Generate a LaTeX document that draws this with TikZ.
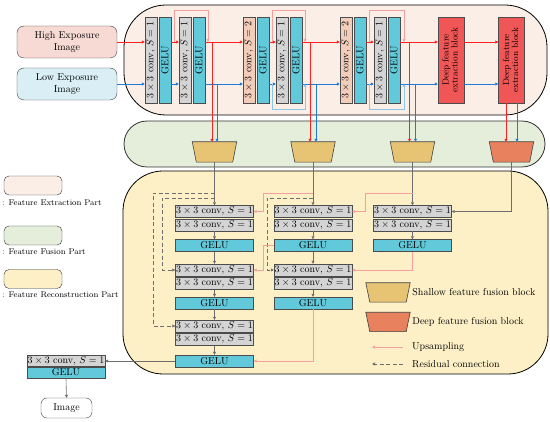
\documentclass[tikz,border=0pt]{standalone}
\usepackage{tikz}
\usetikzlibrary{arrows.meta,positioning}
\definecolor{extfill}{HTML}{FBEEE6}
\definecolor{fusfill}{HTML}{E4EEDA}
\definecolor{recfill}{HTML}{FDF0C6}
\definecolor{highfill}{HTML}{F8DAD4}
\definecolor{lowfill}{HTML}{D9EFF5}
\definecolor{convgray}{HTML}{D4D4D4}
\definecolor{convpeach}{HTML}{F2CDB9}
\definecolor{gelucyan}{HTML}{62C9DA}
\definecolor{deepred}{HTML}{F05656}
\definecolor{shallowgold}{HTML}{E6C474}
\definecolor{deeporange}{HTML}{E8825E}
\definecolor{lnred}{HTML}{FF2020}
\definecolor{lnblue}{HTML}{1E7CD6}
\definecolor{lnpink}{HTML}{F5A0A0}
\definecolor{lnlblue}{HTML}{8CC6EA}
\definecolor{lngray}{HTML}{6E6E6E}
\newcommand\convlbl{$3\times 3$ conv, $S=1$}
\newcommand\gelulbl{GELU}
\tikzset{
  blk/.style={draw=black!70,inner sep=0pt,font=\fontsize{10}{11}\selectfont},
  vconv/.style={blk,fill=convgray,minimum width=12pt,minimum height=86pt},
  vgelu/.style={blk,fill=gelucyan,minimum width=12pt,minimum height=86pt},
  s1/.style={fill=convgray},
  s2/.style={fill=convpeach},
  deepblk/.style={blk,fill=deepred,minimum width=26pt,minimum height=86pt,font=\fontsize{9}{10}\selectfont},
  hconv/.style={blk,fill=convgray,minimum width=78pt,minimum height=12pt},
  hgelu/.style={blk,fill=gelucyan,minimum width=78pt,minimum height=12pt},
  inimg/.style={draw=black!75,rounded corners=7pt,minimum width=100pt,minimum height=32pt,align=center,font=\fontsize{10}{11.5}\selectfont},
  fusebox/.style={inner sep=0pt,minimum width=44pt,minimum height=20pt},
  trap/.style={draw=black!75,line width=0.6pt},
  legbox/.style={draw=black!80,rounded corners=5pt,minimum width=58pt,minimum height=19pt},
  legtxt/.style={inner sep=1pt,font=\fontsize{8.3}{9}\selectfont},
  keytxt/.style={inner sep=1pt,font=\fontsize{10}{11}\selectfont},
  redar/.style={-{Triangle[length=3pt,width=3pt]},draw=lnred,line width=0.8pt},
  bluar/.style={-{Triangle[length=3pt,width=3pt]},draw=lnblue,line width=0.8pt},
  pinkar/.style={-{Triangle[length=3pt,width=3pt]},draw=lnpink,line width=0.7pt},
  lbluar/.style={-{Triangle[length=3pt,width=3pt]},draw=lnlblue,line width=0.7pt},
  grayar/.style={-{Triangle[length=3pt,width=3pt]},draw=lngray,line width=0.6pt},
  resar/.style={grayar,dashed,dash pattern=on 4pt off 2.5pt},
  upar/.style={-{Triangle[length=3pt,width=3pt]},draw=lnpink,line width=0.8pt},
}
\begin{document}
\begin{tikzpicture}[x=1pt,y=-1pt]
  \useasboundingbox (0,0) rectangle (550,422);
  % three parts
  \draw[fill=extfill,line width=0.8pt,rounded corners=42pt] (124,5) rectangle (547,115);
  \draw[fill=fusfill,line width=0.8pt,draw=black!80,rounded corners=23pt] (124,121) rectangle (545,167);
  \draw[fill=recfill,line width=0.8pt,rounded corners=40pt] (123,171) rectangle (548,374);

  % inputs
  \node[inimg,fill=highfill] (high) at (67,42) {High Exposure\\Image};
  \node[inimg,fill=lowfill] (low) at (67,84) {Low Exposure\\Image};
  \coordinate (rr) at (0,42);
  \coordinate (bb) at (0,84);

  % feature extraction blocks
  \foreach \n/\x/\s in {1/151/1,2/185/1,3/249/2,4/282/1,5/346/2,6/380/1} {
    \node[vconv,s\s] (c\n) at (\x,60) {\rotatebox{90}{$3\times 3$ conv, $S=\s$}};
    \node[vgelu] (g\n) at (\x+14,60) {\rotatebox{90}{GELU}};
  }
  \node[deepblk] (d1) at (451,60) {\rotatebox{90}{\begin{tabular}{@{}c@{}}Deep feature\\[-1pt]extraction block\end{tabular}}};
  \node[deepblk] (d2) at (511.5,60) {\rotatebox{90}{\begin{tabular}{@{}c@{}}Deep feature\\[-1pt]extraction block\end{tabular}}};

  \draw[redar] (high.east) -- (c1.west |- rr);
  \draw[bluar] (low.east |- bb) -- (c1.west |- bb);
  \foreach \a/\b in {g1/c2,g2/c3,g3/c4,g4/c5,g5/c6,g6/d1,d1/d2} {
    \draw[redar] (\a.east |- rr) -- (\b.west |- rr);
    \draw[bluar] (\a.east |- bb) -- (\b.west |- bb);
  }

  % residual loops
  \coordinate (lp2) at (174,42);
  \coordinate (lq2) at (208,42);
  \draw[pinkar] (lp2) -- (174,10) -| (lq2);
  \foreach \p/\q in {272/305,369/404} {
    \draw[pinkar] (\p,42) -- (\p,10) -| (\q,42);
    \draw[lbluar] (\p,84) -- (\p,109) -| (\q,84);
  }

  % feature fusion blocks
  \node[fusebox] (t1) at (214.5,152) {};
  \node[fusebox] (t2) at (313,152) {};
  \node[fusebox] (t3) at (412.5,152) {};
  \node[fusebox] (t4) at (511.5,152) {};
  \foreach \t/\c in {t1/shallowgold,t2/shallowgold,t3/shallowgold,t4/deeporange}
    \draw[trap,fill=\c] (\t.north west) -- (\t.north east) -- ([xshift=-4pt]\t.south east)
      -- ([xshift=4pt]\t.south west) -- cycle;

  \coordinate (jr2) at (212,42);   \coordinate (jb2) at (217,84);
  \coordinate (jr4) at (310,42);   \coordinate (jb4) at (316,84);
  \coordinate (jr6) at (409.5,42); \coordinate (jb6) at (415.5,84);
  \draw[redar] (jr2) -- (jr2 |- t1.north);
  \draw[bluar] (jb2) -- (jb2 |- t1.north);
  \draw[redar] (jr4) -- (jr4 |- t2.north);
  \draw[bluar] (jb4) -- (jb4 |- t2.north);
  \draw[redar] (jr6) -- (jr6 |- t3.north);
  \draw[bluar] (jb6) -- (jb6 |- t3.north);
  \draw[redar] (d2.south -| 506,0) -- (506,0 |- t4.north);
  \draw[bluar] (d2.south -| 517,0) -- (517,0 |- t4.north);

  % feature reconstruction
  \foreach \r/\y/\t/\l in {1/211.5/hconv/\convlbl,2/225/hconv/\convlbl,3/245.5/hgelu/\gelulbl,
      4/270/hconv/\convlbl,5/283.5/hconv/\convlbl,6/303/hgelu/\gelulbl,
      7/326/hconv/\convlbl,8/339.5/hconv/\convlbl,9/361/hgelu/\gelulbl} {
    \node[\t] (a\r) at (214.5,\y) {\l};
  }
  \foreach \r/\y/\t/\l in {1/211.5/hconv/\convlbl,2/225/hconv/\convlbl,3/245.5/hgelu/\gelulbl,
      4/270/hconv/\convlbl,5/283.5/hconv/\convlbl,6/303/hgelu/\gelulbl} {
    \node[\t] (b\r) at (313,\y) {\l};
  }
  \foreach \r/\y/\t/\l in {1/211.5/hconv/\convlbl,2/225/hconv/\convlbl,3/245.5/hgelu/\gelulbl} {
    \node[\t] (c\r x) at (412.5,\y) {\l};
  }

  \draw[grayar] (t1.south) -- (a1.north);
  \draw[grayar] (t2.south) -- (b1.north);
  \draw[grayar] (t3.south) -- (c1x.north);
  \draw[grayar] (t4.south) |- (c1x.east);
  \foreach \p/\q in {a2/a3,a3/a4,a5/a6,a6/a7,a8/a9,b2/b3,b3/b4,b5/b6,c2x/c3x}
    \draw[grayar] (\p) -- (\q);

  \draw[resar] (a1.north |- 0,193) -- (153,193) |- (a7.west);
  \draw[resar] (a1.north |- 0,198) -- (162,198) |- (a4.west);
  \draw[resar] (b1.north |- 0,198) -- (267,198) |- (b4.west);

  \draw[upar] (b1.north |- 0,193) -- (263,193) |- (a1.east);
  \draw[upar] (c1x.north |- 0,193) -- (365,193) |- (b1.east);
  \draw[upar] (b3.west) -- (263,245.5) |- (a4.east);
  \draw[upar] (c3x.south) |- (b4.east);
  \draw[upar] (b6.south) |- (a9.east);

  % output
  \node[hconv,minimum height=11pt] (outc) at (66,361) {\convlbl};
  \node[hgelu,minimum height=11pt,below=0pt of outc] (outg) {GELU};
  \node[draw=black!75,rounded corners=6pt,minimum width=51pt,minimum height=20pt,
        font=\fontsize{10}{11}\selectfont] (img) at (66.5,408) {Image};
  \draw[grayar] (a9.west) -- (outc.east);
  \draw[grayar] (outg.south) -- (img.north);

  % legend
  \node[legbox,fill=extfill] (lg1) at (33,185.5) {};
  \node[legbox,fill=fusfill] (lg2) at (33,235.5) {};
  \node[legbox,fill=recfill] (lg3) at (33,279) {};
  \node[legtxt,anchor=west] at (1,203) {: Feature Extraction Part};
  \node[legtxt,anchor=west] at (1,252) {: Feature Fusion Part};
  \node[legtxt,anchor=west] at (1,295) {: Feature Reconstruction Part};

  \node[fusebox,minimum height=19pt] (ks) at (388,292.5) {};
  \node[fusebox,minimum height=19pt] (kd) at (388,322) {};
  \foreach \t/\c in {ks/shallowgold,kd/deeporange}
    \draw[trap,fill=\c] (\t.north west) -- (\t.north east) -- ([xshift=-4pt]\t.south east)
      -- ([xshift=4pt]\t.south west) -- cycle;
  \node[keytxt,right=1pt of ks] {Shallow feature fusion block};
  \node[keytxt,right=1pt of kd] {Deep feature fusion block};
  \coordinate (ku1) at (403,347); \coordinate (ku0) at (372,347);
  \coordinate (kr1) at (403,364); \coordinate (kr0) at (372,364);
  \draw[upar] (ku1) -- (ku0);
  \draw[resar] (kr1) -- (kr0);
  \node[keytxt,anchor=west] at (411,347) {Upsampling};
  \node[keytxt,anchor=west] at (411,364) {Residual connection};
\end{tikzpicture}
\end{document}
